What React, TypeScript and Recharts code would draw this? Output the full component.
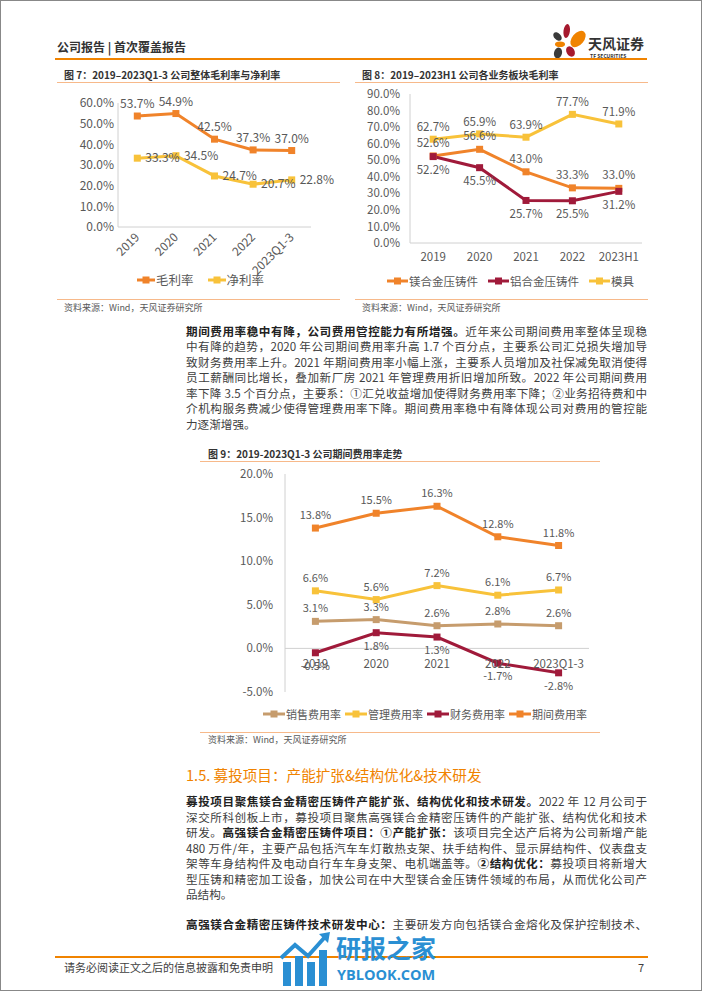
import React from 'react';
import { LineChart, Line, XAxis, YAxis, LabelList, Legend, ReferenceLine } from 'recharts';

const FONT = '"Noto Sans CJK SC", "Noto Sans", sans-serif';

// ---------- Figure 7 ----------
const years7 = ['2019', '2020', '2021', '2022', '2023Q1-3'];
const grossMargin7 = [53.7, 54.9, 42.5, 37.3, 37.0];
const netMargin7 = [33.3, 34.5, 24.7, 20.7, 22.8];
const ticks7 = [0, 10, 20, 30, 40, 50, 60];
const names7 = ['毛利率', '净利率'];

// ---------- Figure 8 ----------
const years8 = ['2019', '2020', '2021', '2022', '2023H1'];
const mgCasting8 = [52.6, 56.6, 43.0, 33.3, 33.0];
const alCasting8 = [52.2, 45.5, 25.7, 25.5, 31.2];
const mold8 = [62.7, 65.9, 63.9, 77.7, 71.9];
const ticks8 = [0, 10, 20, 30, 40, 50, 60, 70, 80, 90];
const names8 = ['镁合金压铸件', '铝合金压铸件', '模具'];

// ---------- Figure 9 ----------
const years9 = ['2019', '2020', '2021', '2022', '2023Q1-3'];
const sales9 = [3.1, 3.3, 2.6, 2.8, 2.6];
const admin9 = [6.6, 5.6, 7.2, 6.1, 6.7];
const finance9 = [-0.5, 1.8, 1.3, -1.7, -2.8];
const period9 = [13.8, 15.5, 16.3, 12.8, 11.8];
const ticks9 = [-5, 0, 5, 10, 15, 20];
const names9 = ['销售费用率', '管理费用率', '财务费用率', '期间费用率'];

const ORANGE = '#F0832A';
const YELLOW = '#F8C23A';
const MAROON = '#A01A3A';
const TAN = '#C69C6D';
const AXIS = '#d0d0d0';
const LABEL = '#595959';

const data7 = years7.map((y, i) => ({ year: y, gross: grossMargin7[i], net: netMargin7[i] }));
const data8 = years8.map((y, i) => ({ year: y, mg: mgCasting8[i], al: alCasting8[i], mold: mold8[i] }));
const data9 = years9.map((y, i) => ({ year: y, sales: sales9[i], admin: admin9[i], fin: finance9[i], period: period9[i] }));

const pct = (v: any) => `${Number(v).toFixed(1)}%`;

const square = (color: string, size = 7) => (p: any) => {
  if (p.cx == null || p.cy == null) return <g key={`n${p.index}`} />;
  return <rect key={`d${p.index}`} x={p.cx - size / 2} y={p.cy - size / 2} width={size} height={size} fill={color} />;
};

const makeLegend = (order: string[], gap: number, fontSize: number, markW: number) => (props: any) => {
  const payload = [...(props.payload || [])].sort((a: any, b: any) => order.indexOf(a.value) - order.indexOf(b.value));
  return (
    <div style={{ display: 'flex', alignItems: 'center', fontFamily: FONT, fontSize, color: LABEL, whiteSpace: 'nowrap' }}>
      {payload.map((it: any, i: number) => (
        <div key={i} style={{ display: 'flex', alignItems: 'center', marginRight: gap }}>
          <svg width={markW} height={10}>
            <line x1={0} y1={5} x2={markW} y2={5} stroke={it.color} strokeWidth={3} />
            <rect x={markW / 2 - 3.5} y={1.5} width={7} height={7} fill={it.color} />
          </svg>
          <span style={{ marginLeft: 1 }}>{it.value}</span>
        </div>
      ))}
    </div>
  );
};

const RotTick = (props: any) => {
  const { x, y, payload } = props;
  return (
    <text x={x} y={y} transform={`rotate(-45 ${x} ${y})`} textAnchor="end" dy="0.35em" fontSize={12} fill={LABEL} fontFamily={FONT}>
      {payload.value}
    </text>
  );
};

// chart geometry
const C7_W = 305, C7_H = 210, M7 = { top: 18, right: 34, left: 0, bottom: 8 }, Y7_W = 78;
const PAD7 = (C7_W - M7.left - M7.right - Y7_W) / (2 * years7.length);
const C8_W = 310, C8_H = 220, M8 = { top: 14, right: 13, left: 0, bottom: 32 }, Y8_W = 65;
const PAD8 = (C8_W - M8.left - M8.right - Y8_W) / (2 * years8.length);
const C9_W = 400, C9_H = 265, M9 = { top: 12, right: 11, left: 0, bottom: 25 }, Y9_W = 85;
const PAD9 = (C9_W - M9.left - M9.right - Y9_W) / (2 * years9.length);
const X9_H = 10;
const Y9_MIN = -5, Y9_MAX = 20;
const PLOT9_H = C9_H - M9.top - M9.bottom - X9_H;
const SHIFT9 = (PLOT9_H * (0 - Y9_MIN)) / (Y9_MAX - Y9_MIN);

const ZeroTick = (props: any) => {
  const { x, y, payload } = props;
  return (
    <text x={x} y={y - SHIFT9} dy="0.71em" textAnchor="middle" fontSize={11.5} fill={LABEL} fontFamily={FONT}>
      {payload.value}
    </text>
  );
};

const Chart7 = () => (
  <div style={{ position: 'absolute', left: 40, top: 85 }}>
    <LineChart width={C7_W} height={C7_H} data={data7} margin={M7} style={{ fontFamily: FONT }}>
      <XAxis dataKey="year" height={60} padding={{ left: PAD7, right: PAD7 }} axisLine={{ stroke: AXIS }} tickLine={false} tickSize={4} tickMargin={4} tick={<RotTick />} interval={0} />
      <YAxis type="number" domain={[0, 60]} ticks={ticks7} interval={0} width={Y7_W} axisLine={{ stroke: AXIS }} tickLine={false} tickSize={2} tickMargin={2} tickFormatter={pct} tick={{ fontSize: 12, fill: LABEL }} />
      <Line name="毛利率" type="linear" dataKey="gross" stroke={ORANGE} strokeWidth={3} dot={square(ORANGE)} activeDot={false} isAnimationActive={false}>
        <LabelList dataKey="gross" position="top" offset={8} formatter={pct} fontSize={12} fill={LABEL} />
      </Line>
      <Line name="净利率" type="linear" dataKey="net" stroke={YELLOW} strokeWidth={3} dot={square(YELLOW)} activeDot={false} isAnimationActive={false}>
        <LabelList dataKey="net" position="right" offset={8} formatter={pct} fontSize={12} fill={LABEL} />
      </Line>
      <Legend layout="horizontal" verticalAlign="middle" align="center" wrapperStyle={{ top: 185, left: 97, width: 'auto' }} content={makeLegend(names7, 14, 12.5, 18)} />
    </LineChart>
  </div>
);

const Chart8 = () => (
  <div style={{ position: 'absolute', left: 345, top: 80 }}>
    <LineChart width={C8_W} height={C8_H} data={data8} margin={M8} style={{ fontFamily: FONT }}>
      <XAxis dataKey="year" height={25} padding={{ left: PAD8, right: PAD8 }} axisLine={{ stroke: AXIS }} tickLine={false} tickSize={6} tickMargin={4} tick={{ fontSize: 11.5, fill: LABEL }} interval={0} />
      <YAxis type="number" domain={[0, 90]} ticks={ticks8} interval={0} width={Y8_W} axisLine={{ stroke: AXIS }} tickLine={false} tickSize={6} tickMargin={4} tickFormatter={pct} tick={{ fontSize: 11.5, fill: LABEL }} />
      <Line name="镁合金压铸件" type="linear" dataKey="mg" stroke={ORANGE} strokeWidth={3} dot={square(ORANGE)} activeDot={false} isAnimationActive={false}>
        <LabelList dataKey="mg" position="top" offset={9} formatter={pct} fontSize={11.5} fill={LABEL} />
      </Line>
      <Line name="铝合金压铸件" type="linear" dataKey="al" stroke={MAROON} strokeWidth={3} dot={square(MAROON)} activeDot={false} isAnimationActive={false}>
        <LabelList dataKey="al" position="bottom" offset={9} formatter={pct} fontSize={11.5} fill={LABEL} />
      </Line>
      <Line name="模具" type="linear" dataKey="mold" stroke={YELLOW} strokeWidth={3} dot={square(YELLOW)} activeDot={false} isAnimationActive={false}>
        <LabelList dataKey="mold" position="top" offset={8} formatter={pct} fontSize={11.5} fill={LABEL} />
      </Line>
      <Legend layout="horizontal" verticalAlign="middle" align="center" wrapperStyle={{ top: 193, left: 42, width: 'auto' }} content={makeLegend(names8, 10, 11.5, 21)} />
    </LineChart>
  </div>
);

const Chart9 = () => (
  <div style={{ position: 'absolute', left: 200, top: 462 }}>
    <LineChart width={C9_W} height={C9_H} data={data9} margin={M9} style={{ fontFamily: FONT }}>
      <XAxis dataKey="year" height={X9_H} padding={{ left: PAD9, right: PAD9 }} axisLine={false} tickLine={false} tickSize={6} tickMargin={5} tick={<ZeroTick />} interval={0} />
      <YAxis type="number" domain={[Y9_MIN, Y9_MAX]} ticks={ticks9} interval={0} width={Y9_W} axisLine={{ stroke: AXIS }} tickLine={false} tickSize={6} tickMargin={6} tickFormatter={pct} tick={{ fontSize: 11.5, fill: LABEL }} />
      <ReferenceLine y={0} stroke={AXIS} strokeWidth={1} />
      <Line name="销售费用率" type="linear" dataKey="sales" stroke={TAN} strokeWidth={3} dot={square(TAN)} activeDot={false} isAnimationActive={false}>
        <LabelList dataKey="sales" position="top" offset={9} formatter={pct} fontSize={11} fill={LABEL} />
      </Line>
      <Line name="管理费用率" type="linear" dataKey="admin" stroke={YELLOW} strokeWidth={3} dot={square(YELLOW)} activeDot={false} isAnimationActive={false}>
        <LabelList dataKey="admin" position="top" offset={9} formatter={pct} fontSize={11} fill={LABEL} />
      </Line>
      <Line name="财务费用率" type="linear" dataKey="fin" stroke={MAROON} strokeWidth={3} dot={square(MAROON)} activeDot={false} isAnimationActive={false}>
        <LabelList dataKey="fin" position="bottom" offset={9} formatter={pct} fontSize={11} fill={LABEL} />
      </Line>
      <Line name="期间费用率" type="linear" dataKey="period" stroke={ORANGE} strokeWidth={3} dot={square(ORANGE)} activeDot={false} isAnimationActive={false}>
        <LabelList dataKey="period" position="top" offset={9} formatter={pct} fontSize={11} fill={LABEL} />
      </Line>
      <Legend layout="horizontal" verticalAlign="middle" align="center" wrapperStyle={{ top: 244, left: 63, width: 'auto' }} content={makeLegend(names9, 4, 11, 22)} />
    </LineChart>
  </div>
);

type Seg = [string, boolean?];
const para1: Seg[][] = [
  [['期间费用率稳中有降，公司费用管控能力有所增强。', true], ['近年来公司期间费用率整体呈现稳']],
  [['中有降的趋势，2020 年公司期间费用率升高 1.7 个百分点，主要系公司汇兑损失增加导']],
  [['致财务费用率上升。2021 年期间费用率小幅上涨，主要系人员增加及社保减免取消使得']],
  [['员工薪酬同比增长，叠加新厂房 2021 年管理费用折旧增加所致。2022 年公司期间费用']],
  [['率下降 3.5 个百分点，主要系：①汇兑收益增加使得财务费用率下降；②业务招待费和中']],
  [['介机构服务费减少使得管理费用率下降。期间费用率稳中有降体现公司对费用的管控能']],
  [['力逐渐增强。']],
];
const para2: Seg[][] = [
  [['募投项目聚焦镁合金精密压铸件产能扩张、结构优化和技术研发。', true], ['2022 年 12 月公司于']],
  [['深交所科创板上市，募投项目聚焦高强镁合金精密压铸件的产能扩张、结构优化和技术']],
  [['研发。'], ['高强镁合金精密压铸件项目：①产能扩张：', true], ['该项目完全达产后将为公司新增产能']],
  [['480 万件/年，主要产品包括汽车车灯散热支架、扶手结构件、显示屏结构件、仪表盘支']],
  [['架等车身结构件及电动自行车车身支架、电机端盖等。'], ['②结构优化：', true], ['募投项目将新增大']],
  [['型压铸和精密加工设备，加快公司在中大型镁合金压铸件领域的布局，从而优化公司产']],
  [['品结构。']],
];
const para3: Seg[][] = [
  [['高强镁合金精密压铸件技术研发中心：', true], ['主要研发方向包括镁合金熔化及保护控制技术、']],
];

const Para = ({ lines, top, lh, lastJustify = false }: { lines: Seg[][]; top: number; lh: number; lastJustify?: boolean }) => (
  <div style={{ position: 'absolute', left: 186, top, width: 461, fontSize: 11.6, lineHeight: `${lh}px`, color: '#404040', fontFamily: FONT }}>
    {lines.map((l, i) => (
      <div key={i} style={{ height: lh, overflow: 'visible', textAlign: 'justify', textAlignLast: i === lines.length - 1 && !lastJustify ? 'left' : 'justify' }}>
        {l.map((s, j) => (
          <span key={j} style={s[1] ? { fontWeight: 700, color: '#222' } : undefined}>{s[0]}</span>
        ))}
      </div>
    ))}
  </div>
);

const abs = (left: number, top: number, extra: React.CSSProperties = {}): React.CSSProperties => ({ position: 'absolute', left, top, whiteSpace: 'nowrap', ...extra });

const Logo = () => (
  <svg style={{ position: 'absolute', left: 548, top: 18 }} width={100} height={42}>
    <ellipse cx={18.7} cy={13} rx={3.2} ry={7} fill="#A6192E" transform="rotate(8 18.7 13)" />
    <ellipse cx={30} cy={21} rx={6} ry={9.5} fill="#F08300" transform="rotate(40 30 21)" />
    <ellipse cx={9.5} cy={18.5} rx={3.3} ry={5} fill="#3a3a3a" transform="rotate(-45 9.5 18.5)" />
    <ellipse cx={12} cy={26.3} rx={5} ry={2.8} fill="#F08300" />
    <ellipse cx={10} cy={35} rx={4} ry={5.5} fill="#3a3a3a" transform="rotate(15 10 35)" />
    <ellipse cx={22.5} cy={33.5} rx={4} ry={5.5} fill="#A6192E" transform="rotate(-30 22.5 33.5)" />
    <text x={40} y={31} fontSize={14} fontWeight={700} fill="#333" fontFamily={FONT}>天风证券</text>
    <text x={42} y={39.5} fontSize={5} fontWeight={700} fill="#333" fontFamily={FONT}>TF SECURITIES</text>
  </svg>
);

const Watermark = () => (
  <div style={{ position: 'absolute', left: 280, top: 930, width: 160, height: 60 }}>
    <svg width={52} height={58} style={{ position: 'absolute', left: 0, top: 0 }}>
      <rect x={3} y={32} width={8} height={24} fill="#2a8fd3" />
      <rect x={15} y={26} width={8} height={30} fill="#2a8fd3" />
      <rect x={27} y={32} width={8} height={24} fill="#2a8fd3" />
      <rect x={39} y={20} width={8} height={36} fill="#2a8fd3" />
      <polyline points="1,28 15,15 28,26 45,7" fill="none" stroke="#2a8fd3" strokeWidth={4} />
      <polygon points="39,4 50,2 48,13" fill="#2a8fd3" />
    </svg>
    <div style={abs(56, 3, { fontSize: 25, fontWeight: 700, color: '#2a8fd3', fontFamily: FONT, lineHeight: '28px', letterSpacing: 0 })}>研报之家</div>
    <div style={abs(57, 36, { fontSize: 14.5, fontWeight: 700, color: '#2a8fd3', fontFamily: '"Open Sans", sans-serif', lineHeight: '18px' })}>YBLOOK.COM</div>
  </div>
);

const hline = (left: number, top: number, width: number, color: string, h = 1) => (
  <div style={{ position: 'absolute', left, top, width, height: h, background: color }} />
);

const TITLE: React.CSSProperties = { fontSize: 10, fontWeight: 700, color: '#333', fontFamily: FONT, lineHeight: '12px' };
const SRC: React.CSSProperties = { fontSize: 9, color: '#595959', fontFamily: FONT, lineHeight: '11px' };
const LINE_LIGHT = '#F7B98A';

export default function App() {
  return (
    <div style={{ position: 'absolute', left: 0, top: 0, width: 702, height: 991, background: '#fff', overflow: 'hidden', fontFamily: FONT }}>
      {/* header */}
      <div style={abs(57, 40, { fontSize: 12, fontWeight: 700, color: '#333', lineHeight: '14px' })}>公司报告 | 首次覆盖报告</div>
      <Logo />
      {hline(55, 58, 592, '#F08300', 1.5)}

      {/* figure 7 & 8 frames */}
      <div style={abs(64, 69, TITLE)}>图 7：2019–2023Q1-3 公司整体毛利率与净利率</div>
      {hline(57, 82, 283, LINE_LIGHT)}
      <div style={abs(362, 69, TITLE)}>图 8：2019–2023H1 公司各业务板块毛利率</div>
      {hline(355, 82, 293, LINE_LIGHT)}
      <Chart7 />
      <Chart8 />
      {hline(57, 299, 283, LINE_LIGHT)}
      {hline(355, 299, 293, LINE_LIGHT)}
      <div style={abs(64, 302, SRC)}>资料来源：Wind，天风证券研究所</div>
      <div style={abs(362, 302, SRC)}>资料来源：Wind，天风证券研究所</div>

      <Para lines={para1} top={323.5} lh={15.5} />

      {/* figure 9 */}
      <div style={abs(208, 448, TITLE)}>图 9：2019-2023Q1-3 公司期间费用率走势</div>
      {hline(200, 461, 400, LINE_LIGHT)}
      <Chart9 />
      {hline(200, 732, 400, LINE_LIGHT)}
      <div style={abs(208, 734, SRC)}>资料来源：Wind，天风证券研究所</div>

      <div style={abs(186, 766, { fontSize: 14.6, color: '#F08300', lineHeight: '18px' })}>1.5. 募投项目：产能扩张&amp;结构优化&amp;技术研发</div>
      <Para lines={para2} top={794.3} lh={15.5} />
      <Para lines={para3} top={917.3} lh={15.5} lastJustify />

      {/* footer */}
      {hline(55, 956, 593, '#F08300', 1.5)}
      <div style={abs(64, 960, { fontSize: 11, color: '#404040', lineHeight: '14px' })}>请务必阅读正文之后的信息披露和免责申明</div>
      <div style={abs(638, 960, { fontSize: 11, color: '#404040', lineHeight: '14px' })}>7</div>
      <Watermark />

      <div style={{ position: 'absolute', left: 0, top: 0, width: 702, height: 991, boxSizing: 'border-box', border: '1px solid #888', pointerEvents: 'none' }} />
    </div>
  );
}
